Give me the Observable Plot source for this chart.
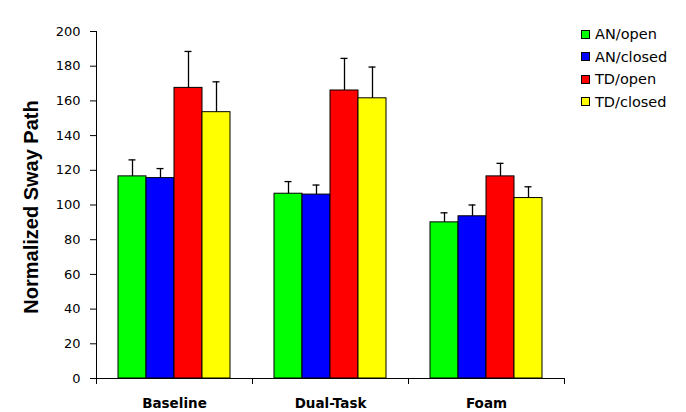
<!DOCTYPE html>
<html><head><meta charset="utf-8">
<script src="https://cdn.jsdelivr.net/npm/d3@7"></script>
<script src="https://cdn.jsdelivr.net/npm/@observablehq/plot@0.6"></script>
<style>
body{margin:0;background:#fff;}
#wrap{position:relative;width:686px;height:412px;}
#legend{position:absolute;left:581px;top:23px;font-family:"DejaVu Sans";font-size:14.5px;color:#000;}
.item{display:flex;align-items:center;height:22.5px;white-space:nowrap;}
.sw{width:7px;height:7px;border:1px solid #000;margin-right:5px;}
</style></head><body><div id="wrap"><div id="legend"></div></div>
<script>
const categories = ["Baseline", "Dual-Task", "Foam"];
const series = ["AN/open", "AN/closed", "TD/open", "TD/closed"];
const colors = ["#00ff00", "#0000ff", "#ff0000", "#ffff00"];
const anOpen = [116.5, 106.5, 90];
const anOpenErr = [9.5, 7, 5.5];
const anClosed = [115.5, 106, 93.5];
const anClosedErr = [5.5, 5.5, 6.5];
const tdOpen = [167.5, 166, 116.5];
const tdOpenErr = [21, 18.5, 7.5];
const tdClosed = [153.5, 161.5, 104];
const tdClosedErr = [17.5, 18, 6.5];
const yTicks = [0, 20, 40, 60, 80, 100, 120, 140, 160, 180, 200];
const yTitle = "Normalized Sway Path";

const values = [anOpen, anClosed, tdOpen, tdClosed];
const errors = [anOpenErr, anClosedErr, tdOpenErr, tdClosedErr];
const data = [];
categories.forEach((c, i) => series.forEach((s, j) => data.push({category: c, series: s, value: values[j][i], err: errors[j][i]})));

const plot = Plot.plot({
  width: 686, height: 412,
  marginLeft: 96, marginRight: 122, marginTop: 31, marginBottom: 34,
  style: {fontFamily: "DejaVu Sans", fontSize: "13px", color: "#000", background: "#fff", overflow: "visible"},
  fx: {domain: categories, padding: 0, label: null},
  x: {domain: series, paddingInner: 0, paddingOuter: 0.713, axis: null},
  y: {domain: [0, 200], label: null},
  color: {domain: series, range: colors},
  marks: [
    Plot.barY(data, {fx: "category", x: "series", y: "value", fill: "series", stroke: "#000", strokeWidth: 1}),
    Plot.ruleX(data, {fx: "category", x: "series", y1: "value", y2: d => d.value + d.err, stroke: "#000", strokeWidth: 1.3}),
    Plot.tickY(data, {fx: "category", x: "series", y: d => d.value + d.err, stroke: "#000", strokeWidth: 1.3, insetLeft: 10.5, insetRight: 10.5}),
    Plot.ruleY([0], {stroke: "#000", strokeWidth: 1}),
    Plot.frame({anchor: "left", facetAnchor: "left", stroke: "#000", strokeWidth: 1}),
    Plot.axisY({ticks: yTicks, tickSize: 6, tickPadding: 10, label: null, fontSize: 13, fontFamily: "DejaVu Sans", stroke: "#000"}),
    Plot.axisFx({anchor: "bottom", tickSize: 0, tickPadding: 20, label: null, fontSize: 13.5, fontWeight: "bold", fontFamily: "DejaVu Sans"}),
    Plot.text([yTitle], {frameAnchor: "left", facetAnchor: "left", textAnchor: "middle", lineAnchor: "middle", rotate: -90, dx: -65, dy: 2, fontSize: 20, fontWeight: "bold", fontFamily: "Liberation Sans", fill: "#000"})
  ]
});
document.getElementById("wrap").prepend(plot);

// category boundary ticks from the library's fx and y scales
const fx = plot.scale("fx"), ys = plot.scale("y");
const y0 = ys.apply(0);
const bounds = categories.map(c => fx.apply(c)).concat([fx.apply(categories[categories.length - 1]) + fx.bandwidth]);
d3.select(plot).append("g").selectAll("line").data(bounds).join("line")
  .attr("x1", d => Math.round(d) + 0.5).attr("x2", d => Math.round(d) + 0.5)
  .attr("y1", y0).attr("y2", y0 + 6).attr("stroke", "#000");

const lg = d3.select("#legend");
series.forEach((s, i) => {
  const it = lg.append("div").attr("class", "item");
  it.append("div").attr("class", "sw").style("background", colors[i]);
  it.append("span").text(s);
});
</script></body></html>
